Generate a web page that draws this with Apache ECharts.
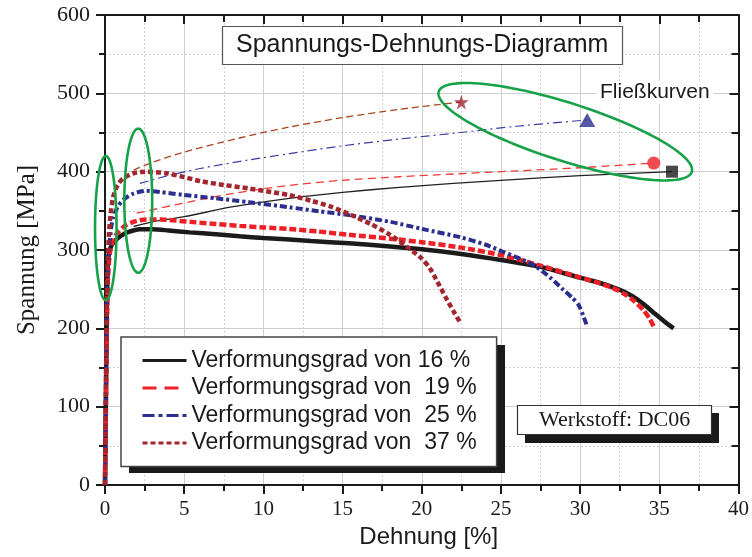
<!DOCTYPE html>
<html>
<head>
<meta charset="utf-8">
<script src="https://cdn.jsdelivr.net/npm/echarts@6/dist/echarts.min.js"></script>
<style>
  html, body { margin: 0; padding: 0; background: #fff; }
  #chart { width: 752px; height: 557px; }
</style>
</head>
<body>
<div id="chart"></div>
<script>
// Stress-strain curves (Dehnung [%], Spannung [MPa]) for four degrees of forming
const seriesNames = [
  'Verformungsgrad von 16 %',
  'Verformungsgrad von  19 %',
  'Verformungsgrad von  25 %',
  'Verformungsgrad von  37 %'
];

const curve16 = [
  [0, 0], [0.05, 100], [0.1, 200], [0.15, 260], [0.2, 290], [0.35, 303], [0.6, 311],
  [1.0, 318], [1.5, 323], [2.2, 326.5], [3.0, 326.5], [4.0, 325], [5.35, 322.5], [7, 320],
  [8.5, 317.5], [10, 315.3], [11.65, 313.3], [13, 311.5], [15.4, 308.5], [18, 304.5],
  [20, 301], [22.5, 295], [25.1, 287], [27.5, 278.5], [30.1, 264], [31, 259.5],
  [32, 253], [32.65, 248], [33.3, 241], [34, 231], [34.7, 219], [35.3, 209], [35.9, 200]
];
const curve19 = [
  [0, 0], [0.06, 100], [0.12, 200], [0.18, 260], [0.3, 295], [0.5, 312], [0.75, 321],
  [1.2, 330], [1.8, 336], [2.6, 339], [3.5, 339], [4.5, 337.5], [5.35, 336], [7, 333.2],
  [8.5, 330.8], [10, 328.8], [11.65, 326.8], [13.5, 323.5], [15.4, 319.5], [18, 314.5],
  [20, 310], [22.5, 303], [25.1, 293], [27.5, 280], [30, 265], [31, 259], [32, 252],
  [32.7, 245], [33.4, 235], [34, 223], [34.4, 212], [34.65, 202]
];
const curve25 = [
  [0, 0], [0.05, 100], [0.1, 200], [0.15, 260], [0.25, 300], [0.4, 330], [0.52, 342],
  [0.8, 355], [1.15, 364], [1.8, 372], [2.6, 375.5], [3.5, 374], [4.9, 370.5], [7, 366],
  [9.1, 361], [11.65, 354.5], [13.5, 349.5], [15.4, 344.5], [18, 336], [20, 327],
  [22.5, 316], [24, 307], [25.1, 298], [26.2, 289], [27.2, 279], [28.1, 265],
  [28.9, 250], [29.5, 239], [29.9, 230], [30.2, 216], [30.45, 202]
];
const curve37 = [
  [0, 0], [0.05, 100], [0.1, 200], [0.15, 270], [0.25, 320], [0.35, 345], [0.52, 368],
  [0.8, 383], [1.15, 391.5], [1.8, 398], [2.6, 400], [3.9, 398], [5, 393], [6, 388],
  [7.5, 383], [9.1, 378.5], [10.5, 374], [11.65, 370], [13, 363], [14.3, 355],
  [15.4, 346], [16.8, 333], [17.95, 320], [19.2, 302], [20, 289], [20.5, 277],
  [21, 259], [21.5, 240], [22, 222], [22.47, 206]
];

// Flow curves (Fließkurven) extrapolated from each test up to its end point
const flowEnd = [[35.8, 400], [34.65, 411], [30.45, 466], [22.5, 489]];
const flow16 = [
  [1.8, 330], [3, 336], [5, 342.5], [8, 355], [11.65, 366], [15, 373.5], [18.6, 380],
  [22, 385], [25, 389], [30, 395], flowEnd[0]
];
const flow19 = [
  [2.0, 347], [5.35, 361.5], [8, 372], [11.65, 382.5], [15, 389], [18.6, 393.5],
  [22, 397], [26, 401], [30, 405], flowEnd[1]
];
const flow25 = [
  [2.2, 385], [4, 395], [6, 404], [9.1, 415], [11.65, 423], [15, 433],
  [18.6, 441.7], [22, 449], [26, 458], flowEnd[2]
];
const flow37 = [
  [1.8, 402], [3, 412], [5, 425], [7.5, 438], [9.76, 449], [11.65, 457],
  [15, 469], [18.6, 479.6], flowEnd[3]
];

// Highlight ellipses: centre x, centre y, half-width (x units), half-height (y units), tilt (deg)
const highlightEllipses = [
  [0.05, 328, 0.68, 92, 0],
  [2.1, 363, 0.88, 92, 0],
  [29.06, 451, 8.38, 37, 17.6]
];

const xTicks = { min: 0, max: 40, interval: 5 };
const yTicks = { min: 0, max: 600, interval: 100 };

const colBlack = '#1b1b1b';
const colRed = '#ee2026';
const colBlue = '#2b2e8e';
const colBrown = '#a3262f';
const colGreen = '#17a24a';

const starPath = 'path://M50,0 L61,35 L98,35 L68,57 L79,91 L50,70 L21,91 L32,57 L2,35 L39,35 Z';

const chart = echarts.init(document.getElementById('chart'), null, { renderer: 'canvas' });

const serif = 'Liberation Serif';
const sans = 'Liberation Sans';

function thinLine(name, data, color, type, width) {
  return {
    name: name, type: 'line', data: data, symbol: 'none', smooth: 0.3,
    lineStyle: { color: color, width: width, type: type }, z: 3, silent: true
  };
}
function thickLine(name, data, color, type, width) {
  return {
    name: name, type: 'line', data: data, symbol: 'none', smooth: 0.25,
    itemStyle: { color: color },
    lineStyle: { color: color, width: width, type: type }, z: 4, silent: true
  };
}

// legend rows show the line pattern only, no point symbol
const hiddenSymbol = { color: 'rgba(0,0,0,0)', borderWidth: 0, opacity: 0 };

const option = {
  animation: false,
  backgroundColor: '#fff',
  graphic: [
    // drop shadows behind the legend and the material box
    { type: 'rect', z: 9, silent: true, shape: { x: 129, y: 345, width: 376, height: 128 }, style: { fill: '#1a1a1a' } },
    { type: 'rect', z: 9, silent: true, shape: { x: 525, y: 413, width: 194, height: 30 }, style: { fill: '#1a1a1a' } }
  ],
  title: [
    {
      text: 'Spannungs-Dehnungs-Diagramm',
      left: 222, top: 26, z: 10,
      padding: [6, 14, 6, 14],
      backgroundColor: '#fff', borderColor: '#555', borderWidth: 1.2,
      textStyle: { fontFamily: sans, fontSize: 25, fontWeight: 'normal', color: '#1a1a1a', lineHeight: 27 }
    },
    {
      text: 'Fließkurven',
      left: 596, top: 81, z: 10,
      padding: [1, 4, 1, 4],
      backgroundColor: '#fff',
      textStyle: { fontFamily: sans, fontSize: 21, fontWeight: 'normal', color: '#1a1a1a' }
    },
    {
      text: 'Werkstoff: DC06',
      left: 517, top: 405, z: 10,
      padding: [4, 22, 3, 22],
      backgroundColor: '#fff', borderColor: '#333', borderWidth: 1.2,
      textStyle: { fontFamily: serif, fontSize: 22, fontWeight: 'normal', color: '#1a1a1a', lineHeight: 23 }
    }
  ],
  legend: {
    data: [
      { name: seriesNames[0], itemStyle: hiddenSymbol, lineStyle: { width: 3, type: 'solid' } },
      { name: seriesNames[1], itemStyle: hiddenSymbol, lineStyle: { width: 3, type: [14, 8] } },
      { name: seriesNames[2], itemStyle: hiddenSymbol, lineStyle: { width: 3, type: [12, 4, 4, 4] } },
      { name: seriesNames[3], itemStyle: hiddenSymbol, lineStyle: { width: 3, type: [5, 3] } }
    ],
    orient: 'vertical',
    left: 121, top: 337,
    itemWidth: 44, itemHeight: 14, itemGap: 4.5,
    padding: [12, 20, 12, 20],
    backgroundColor: '#fff', borderColor: '#444', borderWidth: 1.5,
    selectedMode: false,
    textStyle: { fontFamily: sans, fontSize: 23, color: '#1a1a1a', lineHeight: 23 },
    z: 10
  },
  grid: { left: 105, right: 12, top: 15, bottom: 72, containLabel: false },
  xAxis: [
    {
      type: 'value', min: xTicks.min, max: xTicks.max, interval: xTicks.interval,
      name: 'Dehnung [%]', nameLocation: 'middle', nameGap: 36,
      nameTextStyle: { fontFamily: sans, fontSize: 24, color: '#1a1a1a', padding: [0, 0, 0, 14] },
      axisLine: { show: true, onZero: false, lineStyle: { color: '#1a1a1a', width: 2 } },
      axisTick: { show: true, inside: false, length: 9, lineStyle: { color: '#1a1a1a', width: 2 } },
      minorTick: { show: true, splitNumber: 2, length: 6, lineStyle: { color: '#1a1a1a', width: 2 } },
      axisLabel: { fontFamily: serif, fontSize: 21, color: '#1a1a1a', margin: 14 },
      splitLine: { show: true, lineStyle: { color: '#cfcfcf', width: 1 } },
      minorSplitLine: { show: true, lineStyle: { color: '#d2d2d2', width: 1, type: [2, 2] } }
    },
    {
      type: 'value', position: 'top', min: xTicks.min, max: xTicks.max, interval: xTicks.interval,
      axisLine: { show: true, onZero: false, lineStyle: { color: '#1a1a1a', width: 2 } },
      axisTick: { show: true, inside: true, length: 9, lineStyle: { color: '#1a1a1a', width: 2 } },
      minorTick: { show: true, splitNumber: 2, length: 7, lineStyle: { color: '#1a1a1a', width: 2 } },
      axisLabel: { show: false },
      splitLine: { show: false }
    }
  ],
  yAxis: [
    {
      type: 'value', min: yTicks.min, max: yTicks.max, interval: yTicks.interval,
      name: 'Spannung [MPa]', nameLocation: 'middle', nameGap: 65,
      nameTextStyle: { fontFamily: serif, fontSize: 25, color: '#1a1a1a' },
      axisLine: { show: true, onZero: false, lineStyle: { color: '#1a1a1a', width: 2 } },
      axisTick: { show: true, inside: false, length: 9, lineStyle: { color: '#1a1a1a', width: 2 } },
      minorTick: { show: true, splitNumber: 2, length: 6, lineStyle: { color: '#1a1a1a', width: 2 } },
      axisLabel: { fontFamily: serif, fontSize: 22, color: '#1a1a1a', margin: 15 },
      splitLine: { show: true, lineStyle: { color: '#cfcfcf', width: 1 } },
      minorSplitLine: { show: true, lineStyle: { color: '#d2d2d2', width: 1, type: [2, 2] } }
    },
    {
      type: 'value', position: 'right', min: yTicks.min, max: yTicks.max, interval: yTicks.interval,
      axisLine: { show: true, onZero: false, lineStyle: { color: '#1a1a1a', width: 2 } },
      axisTick: { show: true, inside: true, length: 9, lineStyle: { color: '#1a1a1a', width: 2 } },
      minorTick: { show: true, splitNumber: 2, length: 7, lineStyle: { color: '#1a1a1a', width: 2 } },
      axisLabel: { show: false },
      splitLine: { show: false }
    }
  ],
  series: [
    thinLine('Fließkurve 16', flow16, '#222222', 'solid', 1.3),
    thinLine('Fließkurve 19', flow19, '#f03a3a', [8, 5], 1.3),
    thinLine('Fließkurve 25', flow25, '#3b3ca6', [9, 4, 2, 4], 1.2),
    thinLine('Fließkurve 37', flow37, '#a8461f', [7, 4], 1.3),

    thickLine(seriesNames[0], curve16, colBlack, 'solid', 4.5),
    thickLine(seriesNames[1], curve19, colRed, [7, 3], 4.5),
    thickLine(seriesNames[2], curve25, colBlue, [7, 3, 3, 3], 4),
    thickLine(seriesNames[3], curve37, colBrown, [5, 3], 4.5),

    {
      name: 'Endpunkte', type: 'scatter', z: 6, silent: true,
      data: [
        { value: flowEnd[0], symbol: 'rect', symbolSize: 12, itemStyle: { color: colBlack } },
        { value: flowEnd[1], symbol: 'circle', symbolSize: 13, itemStyle: { color: colRed } },
        { value: flowEnd[2], symbol: 'triangle', symbolSize: [16, 14], itemStyle: { color: colBlue } },
        { value: flowEnd[3], symbol: starPath, symbolSize: 15, itemStyle: { color: colBrown } }
      ]
    },
    {
      name: 'Markierungen', type: 'custom', z: 7, silent: true, clip: false,
      encode: { x: 0, y: 1 },
      data: highlightEllipses,
      renderItem: function (params, api) {
        const c = api.coord([api.value(0), api.value(1)]);
        const rx = api.size([api.value(2), 0])[0];
        const ry = api.size([0, api.value(3)])[1];
        const t = api.value(4) * Math.PI / 180;
        const pts = [];
        const n = 144;
        for (let i = 0; i < n; i++) {
          const a = i / n * Math.PI * 2;
          const ex = rx * Math.cos(a);
          const ey = ry * Math.sin(a);
          pts.push([c[0] + ex * Math.cos(t) - ey * Math.sin(t),
                    c[1] + ex * Math.sin(t) + ey * Math.cos(t)]);
        }
        return {
          type: 'polygon',
          shape: { points: pts },
          style: { fill: 'none', stroke: colGreen, lineWidth: 2.6 }
        };
      }
    }
  ]
};

chart.setOption(option);
</script>
</body>
</html>
